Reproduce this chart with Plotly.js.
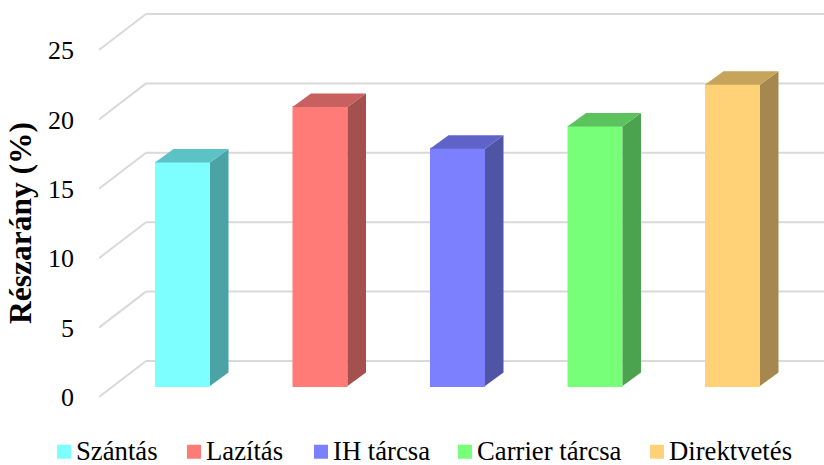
<!DOCTYPE html>
<html>
<head>
<meta charset="utf-8">
<script src="https://cdn.plot.ly/plotly-3.0.1.min.js"></script>
<style>html,body{margin:0;padding:0;background:#fff}</style>
</head>
<body>
<div id="chart" style="width:824px;height:465px"></div>
<script>
// Share of each tillage method, drawn as pseudo-3D columns.
const categories = ['Szántás', 'Lazítás', 'IH tárcsa', 'Carrier tárcsa', 'Direktvetés'];
const values = [16.1, 20.1, 17.1, 18.7, 21.7];
const frontColors = ['#7DFFFF', '#FF7B78', '#7C80FF', '#78FF7A', '#FFD278'];
const sideColors = ['#4CA3A5', '#A4504E', '#4F54A5', '#4CA34F', '#A6874D'];
const topColors = ['#5BC3C5', '#C7605E', '#5F63C8', '#5CC25E', '#C6A45C'];
const tickValues = [0, 5, 10, 15, 20, 25];
const legendEntryWidths = [85, 82, 99, 147, 126];

// Pixel scale of the plot area
const W = 824, H = 465, L = 99, B = 19;
const pxPerUnitY = 13.88, pxPerCat = 137.5;
const zeroPx = 397, firstBarCentrePx = 182.5;

const yRange = [-(H - B - zeroPx) / pxPerUnitY, zeroPx / pxPerUnitY];
const xRange = [(L - firstBarCentrePx) / pxPerCat, (W - firstBarCentrePx) / pxPerCat];

// Oblique projection offsets, in axis units
const wallDx = 47 / pxPerCat, wallDy = 36 / pxPerUnitY;
const barDx = 18.5 / pxPerCat, barDy = 13.5 / pxPerUnitY;
const barBase = 11 / pxPerUnitY;
const barHalf = 27.5 / pxPerCat;
const barWidth = 53 / pxPerCat;

const traces = [];

categories.forEach((name, i) => {
  traces.push({
    type: 'bar', name, x: [i], y: [values[i]], base: [barBase], width: [barWidth],
    legendwidth: legendEntryWidths[i],
    marker: {color: frontColors[i], line: {color: frontColors[i], width: 2}},
    hoverinfo: 'name+text', text: [String(values[i])], textposition: 'none'
  });
});

categories.forEach((name, i) => {
  const top = barBase + values[i];
  const right = i + barHalf, left = i - barHalf;
  traces.push({
    type: 'scatter', mode: 'lines', showlegend: false, hoverinfo: 'skip',
    x: [right, right + barDx, right + barDx, right, right],
    y: [barBase, barBase + barDy, top + barDy, top, barBase],
    fill: 'toself', fillcolor: sideColors[i], line: {width: 0}
  });
  traces.push({
    type: 'scatter', mode: 'lines', showlegend: false, hoverinfo: 'skip',
    x: [left, left + barDx, right + barDx, right, left],
    y: [top, top + barDy, top + barDy, top, top],
    fill: 'toself', fillcolor: topColors[i], line: {width: 0}
  });
});

// Side-wall diagonals and back-wall rules, one pair per tick
const gridLine = {color: '#D9D9D9', width: 2};
const shapes = [];
tickValues.forEach(t => {
  shapes.push({type: 'line', layer: 'below', xref: 'x', yref: 'y', line: gridLine,
    x0: xRange[0], y0: t, x1: xRange[0] + wallDx, y1: t + wallDy});
  shapes.push({type: 'line', layer: 'below', xref: 'x', yref: 'y', line: gridLine,
    x0: xRange[0] + wallDx, y0: t + wallDy, x1: xRange[1], y1: t + wallDy});
});

const serif = '"Liberation Serif", "Times New Roman", serif';

const layout = {
  width: W, height: H,
  margin: {l: L, r: 0, t: 0, b: B, pad: 0, autoexpand: false},
  paper_bgcolor: '#fff', plot_bgcolor: '#fff',
  barmode: 'overlay',
  font: {family: serif, color: '#000'},
  xaxis: {range: xRange, visible: false, fixedrange: true},
  yaxis: {
    range: yRange, tickmode: 'array', tickvals: tickValues, ticktext: tickValues.map(String),
    showgrid: false, zeroline: false, showline: false, ticks: '',
    ticklabelstandoff: 24, tickfont: {family: serif, size: 26, color: '#000'},
    fixedrange: true,
    title: {text: '<b>Részarány (%)</b>', font: {family: serif, size: 31.5, color: '#000'}, standoff: 6}
  },
  shapes,
  showlegend: true,
  legend: {
    orientation: 'h', x: (36 - L) / (W - L), xanchor: 'left', y: -0.0086, yanchor: 'middle',
    font: {family: serif, size: 26.7, color: '#000'}, bgcolor: 'rgba(0,0,0,0)', traceorder: 'normal'
  }
};

Plotly.newPlot('chart', traces, layout, {displayModeBar: false, staticPlot: true}).then(gd => {
  // Tighten the gap between each legend swatch and its label
  gd.querySelectorAll('.legend .traces .layers').forEach(g => {
    g.setAttribute('transform', 'translate(8,2)');
  });
});
</script>
</body>
</html>
